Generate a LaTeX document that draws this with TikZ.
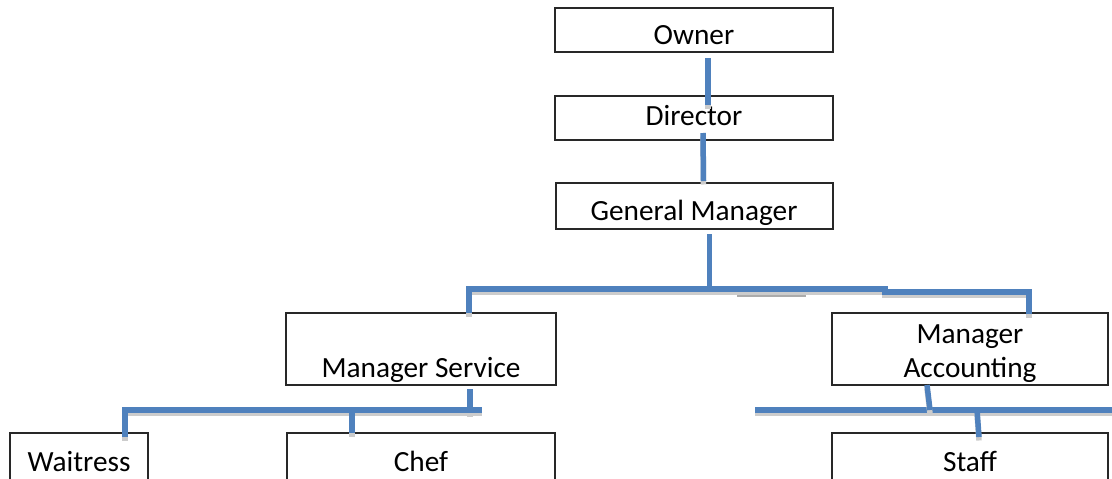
\documentclass[tikz,border=0pt]{standalone}
\usepackage{fontspec}
\setmainfont{Carlito}
\definecolor{linkblue}{RGB}{79,129,189}
\definecolor{frame}{RGB}{40,40,40}
\begin{document}
\begin{tikzpicture}[x=1pt,y=-1pt,
  box/.style={draw=frame, line width=1.3pt, inner sep=0pt, outer sep=0pt},
  lbl/.style={anchor=base, inner sep=0pt, text=black, font=\fontsize{29.3}{34}\selectfont},
  link/.style={draw=linkblue, line width=5.5pt, line join=miter,
    preaction={draw=black!20, line width=5.5pt, transform canvas={yshift=-3.5pt}}},
]
\useasboundingbox (0,0) rectangle (1112,479);
\clip (0,0) rectangle (1112,479);

% boxes
\node[box, minimum width=278pt, minimum height=44pt] (owner)    at (694,30)    {};
\node[box, minimum width=278pt, minimum height=44pt] (director) at (694,118)   {};
\node[box, minimum width=277pt, minimum height=46pt] (gm)       at (694.5,206) {};
\node[box, minimum width=270pt, minimum height=72pt] (ms)       at (421,349)   {};
\node[box, minimum width=276pt, minimum height=72pt] (ma)       at (970,349)   {};
\node[box, minimum width=138pt, minimum height=70pt] (waitress) at (79,468)    {};
\node[box, minimum width=268pt, minimum height=70pt] (chef)     at (421,468)   {};
\node[box, minimum width=276pt, minimum height=70pt] (staff)    at (970,468)   {};

% labels
\node[lbl] (ownerT)    at (694,45)  {Owner};
\node[lbl] (directorT) at (694,125) {Director};
\node[lbl] (gmT)       at (694,220) {General Manager};
\node[lbl] (msT)       at (421,377) {Manager Service};
\node[lbl] (maT1)      at (970,343) {Manager};
\node[lbl] (maT2)      at (970,377) {Accounting};
\node[lbl] (waitressT) at (79,471)  {Waitress};
\node[lbl] (chefT)     at (421,471) {Chef};
\node[lbl] (staffT)    at (970,471) {Staff};

% junction points on the bars
\coordinate (b1L) at (469,289);
\coordinate (b1M) at (709.5,289);
\coordinate (b1S) at (885,289);
\coordinate (b1T) at (885,292);
\coordinate (b1R) at (1029,292);
\coordinate (b2R) at (482,410);
\coordinate (cj)  at (352,410);
\coordinate (msd) at (470,413);
\coordinate (b3L) at (755,410);
\coordinate (b3R) at (1112,410);
\coordinate (maj) at (930,410);
\coordinate (sj)  at (977,410);

% darker strip under the top bar
\draw[draw=black!33, line width=4.5pt] (737,295) -- (806,295);

% upper chain
\draw[link] ([shift={(14,6)}]owner.south) -- ([shift={(14,9)}]director.north);
\draw[link] ([shift={(9,-7)}]director.south) -- ([shift={(9,-2)}]gm.north);
\draw[link] ([shift={(15,5)}]gm.south) -- (b1M);

% bar to the two managers
\draw[link] ([shift={(48,0)}]ms.north) -- (b1L) -- (b1S) -- (b1T) -- (b1R) -- ([shift={(59,1)}]ma.north);

% service branch
\draw[link] ([shift={(46,4)}]waitress.north) |- (b2R);
\draw[link] ([shift={(-69,0)}]chef.north) -- (cj);
\draw[link] ([shift={(49,4)}]ms.south) -- (msd);

% accounting branch
\draw[link] (b3L) -- (b3R);
\draw[link] ([shift={(-43,0)}]ma.south) -- (maj);
\draw[link] (sj) -- ([shift={(9,4)}]staff.north);
\end{tikzpicture}
\end{document}
